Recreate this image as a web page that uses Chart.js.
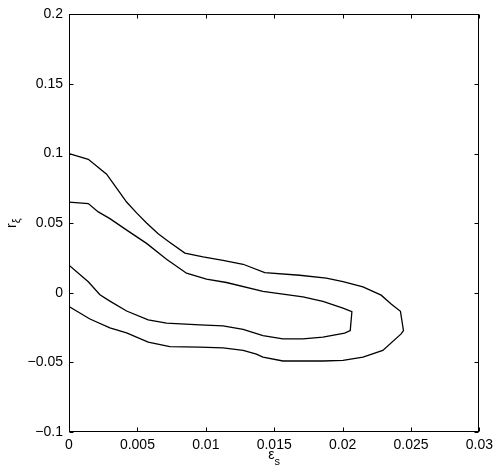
<!DOCTYPE html>
<html>
<head>
<meta charset="utf-8">
<script src="https://cdn.jsdelivr.net/npm/chart.js@4"></script>
<style>
  html, body { margin: 0; padding: 0; background: #fff; }
  #wrap { width: 498px; height: 471px; position: relative; }
</style>
</head>
<body>
<div id="wrap"><canvas id="c"></canvas></div>
<script>
// Outer contour (x = eps_s, y = r_xi)
const outerX = [0, 0.00141, 0.00275, 0.00348, 0.00421, 0.00494, 0.00567, 0.00652, 0.00725, 0.00847,
  0.00980, 0.01126, 0.01273, 0.01431, 0.01686, 0.01881, 0.02003, 0.02149, 0.02282, 0.02355,
  0.02423, 0.02445, 0.02428, 0.02294, 0.02149, 0.02003, 0.01856, 0.01564, 0.01418, 0.01370,
  0.01273, 0.01126, 0.00956, 0.00737, 0.00579, 0.00421, 0.00299, 0.00153, 0];
const outerY = [0.100, 0.0959, 0.0852, 0.0752, 0.0652, 0.0574, 0.0502, 0.0424, 0.0371, 0.0285,
  0.0258, 0.0233, 0.0205, 0.0145, 0.0126, 0.0105, 0.0081, 0.0043, -0.0017, -0.0081,
  -0.0133, -0.0271, -0.0295, -0.0414, -0.0462, -0.0486, -0.0490, -0.0490, -0.0462, -0.0440,
  -0.0414, -0.0395, -0.0390, -0.0386, -0.0355, -0.0288, -0.0252, -0.0188, -0.0098];

// Inner contour
const innerX = [0, 0.00141, 0.00214, 0.00299, 0.00433, 0.00567, 0.00713, 0.00859, 0.01005, 0.01151,
  0.01418, 0.01710, 0.01856, 0.02003, 0.02068, 0.02056, 0.02015, 0.01856, 0.01710, 0.01564,
  0.01418, 0.01273, 0.01126, 0.00956, 0.00713, 0.00579, 0.00421, 0.00299, 0.00226, 0.00141, 0];
const innerY = [0.0652, 0.0641, 0.0581, 0.0533, 0.0443, 0.0355, 0.0241, 0.0141, 0.0098, 0.0074,
  0.0010, -0.0029, -0.0062, -0.0110, -0.0136, -0.0271, -0.0290, -0.0319, -0.0331, -0.0331,
  -0.0307, -0.0262, -0.0238, -0.0230, -0.0218, -0.0194, -0.0131, -0.0060, -0.0014, 0.0079, 0.0198];

const xTickLabels = ['0', '0.005', '0.01', '0.015', '0.02', '0.025', '0.03'];
const yTickLabels = ['\u22120.1', '\u22120.05', '0', '0.05', '0.1', '0.15', '0.2'];

const FONT = "'Liberation Sans', Arial, Helvetica, sans-serif";

function pts(xs, ys) { return xs.map((x, i) => ({ x: x, y: ys[i] })); }

const boxPlugin = {
  id: 'boxPlugin',
  afterDraw(chart) {
    const ctx = chart.ctx;
    const a = chart.chartArea;
    const xs = chart.scales.x, ys = chart.scales.y;
    ctx.save();
    ctx.strokeStyle = '#000';
    ctx.lineWidth = 1;
    const L = Math.round(a.left) + 0.5, R = Math.round(a.right) - 0.5;
    const T = Math.round(a.top) + 0.5, B = Math.round(a.bottom) - 0.5;
    ctx.strokeRect(L, T, R - L, B - T);
    const tl = 4;
    ctx.beginPath();
    xs.ticks.forEach(t => {
      const px = Math.round(xs.getPixelForValue(t.value)) + 0.5;
      ctx.moveTo(px, B); ctx.lineTo(px, B - tl);
      ctx.moveTo(px, T); ctx.lineTo(px, T + tl);
    });
    ys.ticks.forEach(t => {
      const py = Math.round(ys.getPixelForValue(t.value)) + 0.5;
      ctx.moveTo(L, py); ctx.lineTo(L + tl, py);
      ctx.moveTo(R, py); ctx.lineTo(R - tl, py);
    });
    ctx.stroke();

    // axis titles
    ctx.fillStyle = '#000';
    ctx.textBaseline = 'alphabetic';
    // x title: epsilon with subscript s
    const cx = (a.left + a.right) / 2;
    ctx.font = '14px ' + FONT;
    const w1 = ctx.measureText('\u03b5').width;
    ctx.font = '11px ' + FONT;
    const w2 = ctx.measureText('s').width;
    let sx = cx - (w1 + w2) / 2;
    ctx.textAlign = 'left';
    ctx.font = '14px ' + FONT;
    ctx.fillText('\u03b5', sx, 459);
    ctx.font = '11px ' + FONT;
    ctx.fillText('s', sx + w1, 465);

    // y title: r with subscript xi, rotated
    const cy = (a.top + a.bottom) / 2;
    ctx.translate(16, cy);
    ctx.rotate(-Math.PI / 2);
    ctx.font = '14px ' + FONT;
    const v1 = ctx.measureText('r').width;
    ctx.font = '11px ' + FONT;
    const v2 = ctx.measureText('\u03be').width;
    let sy = -(v1 + v2) / 2;
    ctx.font = '14px ' + FONT;
    ctx.fillText('r', sy, 0);
    ctx.font = '11px ' + FONT;
    ctx.fillText('\u03be', sy + v1, 4);
    ctx.restore();
  }
};

new Chart(document.getElementById('c'), {
  type: 'scatter',
  data: {
    datasets: [
      { data: pts(outerX, outerY), showLine: true, borderColor: '#000', borderWidth: 1.3,
        pointRadius: 0, fill: false, tension: 0 },
      { data: pts(innerX, innerY), showLine: true, borderColor: '#000', borderWidth: 1.3,
        pointRadius: 0, fill: false, tension: 0 }
    ]
  },
  options: {
    responsive: true,
    maintainAspectRatio: false,
    animation: false,
    events: [],
    layout: { padding: { top: 12, right: 18, left: 0, bottom: 0 } },
    plugins: { legend: { display: false }, tooltip: { enabled: false } },
    scales: {
      x: {
        type: 'linear', min: 0, max: 0.03,
        grid: { display: false, drawTicks: false },
        border: { display: false },
        ticks: {
          stepSize: 0.005, autoSkip: false, maxRotation: 0, padding: 5,
          color: '#000', font: { family: FONT, size: 14 },
          callback: (v, i) => xTickLabels[i]
        },
        afterFit(s) { s.height = 39; }
      },
      y: {
        type: 'linear', min: -0.1, max: 0.2,
        grid: { display: false, drawTicks: false },
        border: { display: false },
        ticks: {
          stepSize: 0.05, autoSkip: false, padding: 6,
          color: '#000', font: { family: FONT, size: 14 },
          callback: (v, i) => yTickLabels[i]
        },
        afterFit(s) { s.width = 69; }
      }
    }
  },
  plugins: [boxPlugin]
});
</script>
</body>
</html>
